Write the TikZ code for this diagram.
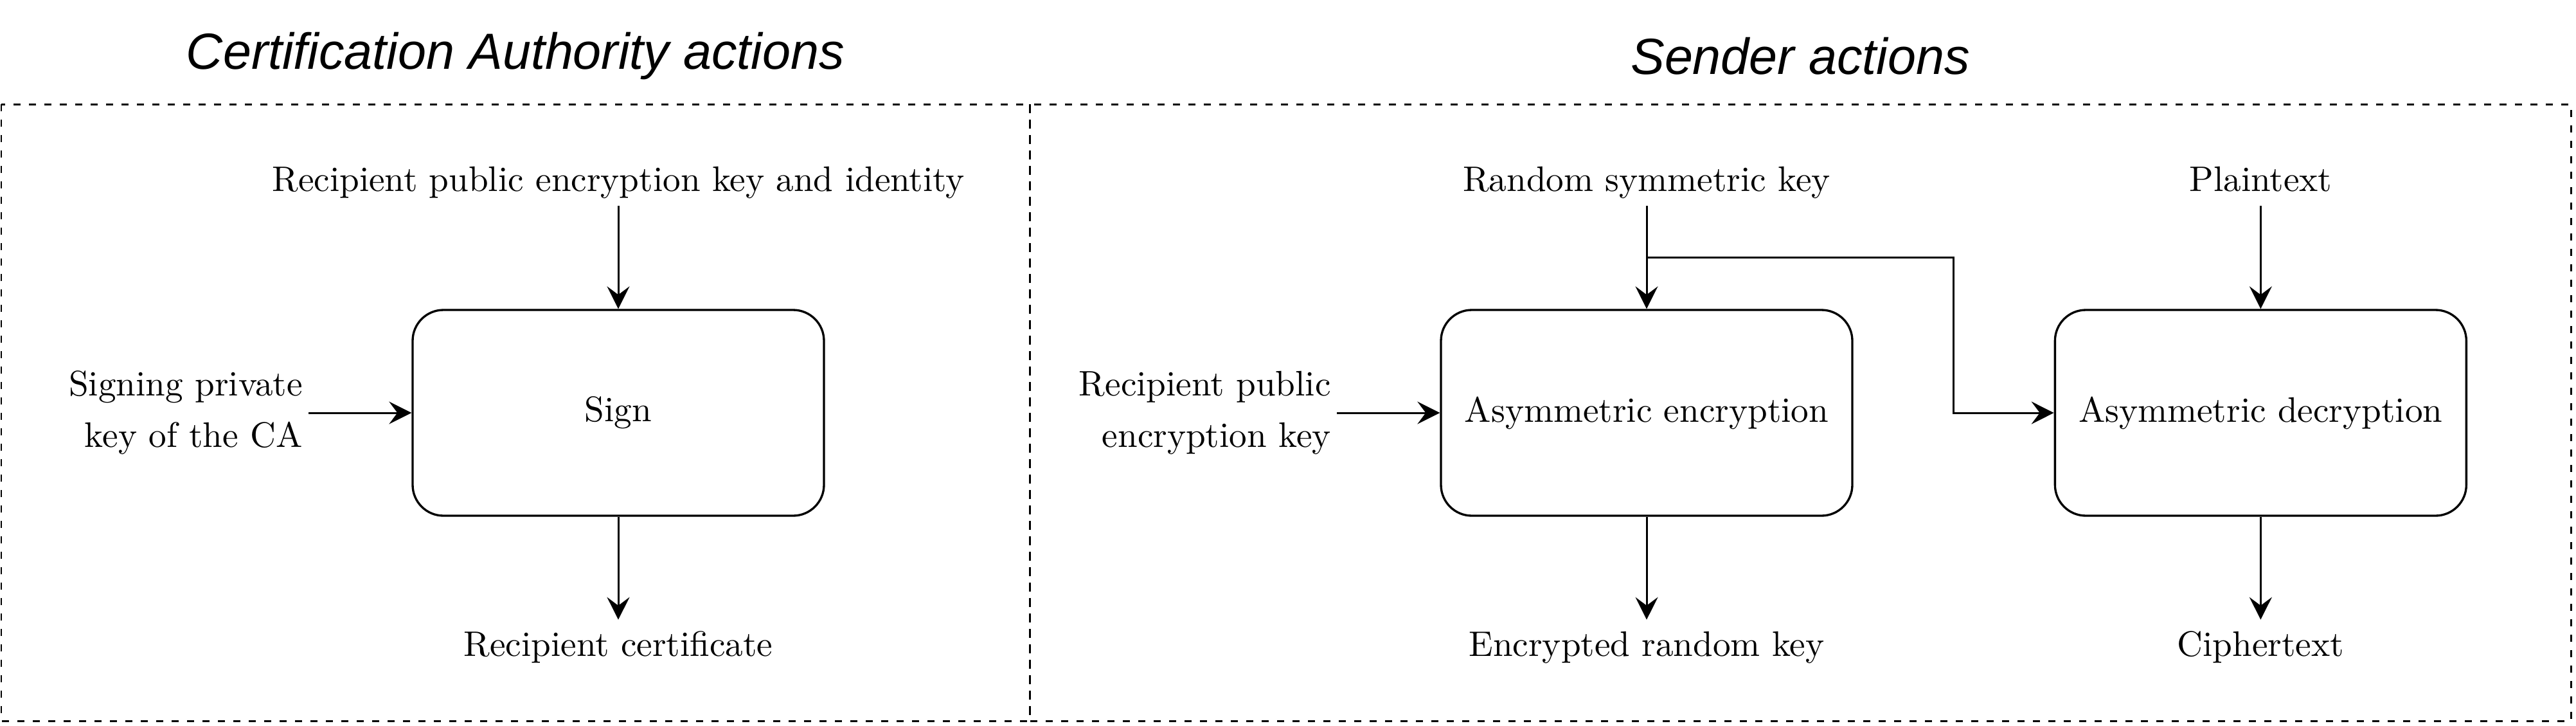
\documentclass[tikz,border=0pt]{standalone}
\usepackage{fontspec}
\setmainfont{lmroman10-regular.otf}
\newfontfamily\titlefont{Liberation Sans}
\usetikzlibrary{positioning,calc,arrows.meta}

\begin{document}
\begin{tikzpicture}[
  every node/.style={font=\fontsize{15.7}{22.8}\selectfont},
  proc/.style={draw, line width=0.95pt, rounded corners=0.48cm, minimum width=6.4cm, minimum height=3.2cm},
  lbl/.style={inner sep=0pt, text height=0.56cm, text depth=0.22cm},
  side/.style={inner xsep=0.09cm, inner ysep=0pt, align=right},
  heading/.style={font=\titlefont\itshape\fontsize{22.5}{27}\selectfont},
  frame/.style={draw, line width=0.85pt, dash pattern=on 0.11cm off 0.13cm},
  arr/.style={line width=0.85pt, -{Stealth[length=0.35cm, width=0.35cm, inset=0.13cm]}},
  node distance=1.6cm
]
\useasboundingbox (0,0) rectangle (40.08,-11.28);

% the two dashed areas
\draw[frame] (0.02,-1.62) rectangle (16.02,-11.21);
\draw[frame] (16.02,-1.62) rectangle (40.0,-11.21);
\node[heading] (catitle) at (8.02,-0.87) {Certification Authority actions};
\node[heading] (sendtitle) at (28.01,-0.87) {Sender actions};

% CA
\node[proc] (sign) at (9.62,-6.42) {Sign};
\node[lbl, above=of sign] (pubid) {Recipient public encryption key and identity};
\node[lbl, below=of sign] (cert) {Recipient certificate};
\node[side, left=of sign] (cakey) {Signing private\\key of the CA};

% sender
\node[proc] (enc) at (25.62,-6.42) {Asymmetric encryption};
\node[proc, right=3.12cm of enc] (dec) {Asymmetric decryption};
\node[lbl, above=of enc] (symkey) {Random symmetric key};
\node[lbl, above=of dec] (plain) {Plaintext};
\node[lbl, below=of enc] (enckey) {Encrypted random key};
\node[lbl, below=of dec] (cipher) {Ciphertext};
\node[side, left=of enc] (pubkey) {Recipient public\\encryption key};

\coordinate (split) at ($(symkey.south)!0.5!(enc.north)$);
\coordinate (bend) at ($(enc.east)!0.5!(dec.west)$);

\path[arr]
  (pubid) edge (sign)
  (cakey) edge (sign)
  (sign) edge (cert)
  (symkey) edge (enc)
  (pubkey) edge (enc)
  (plain) edge (dec)
  (enc) edge (enckey)
  (dec) edge (cipher);
\draw[arr] (split) -| (bend) |- (dec);
\end{tikzpicture}
\end{document}
